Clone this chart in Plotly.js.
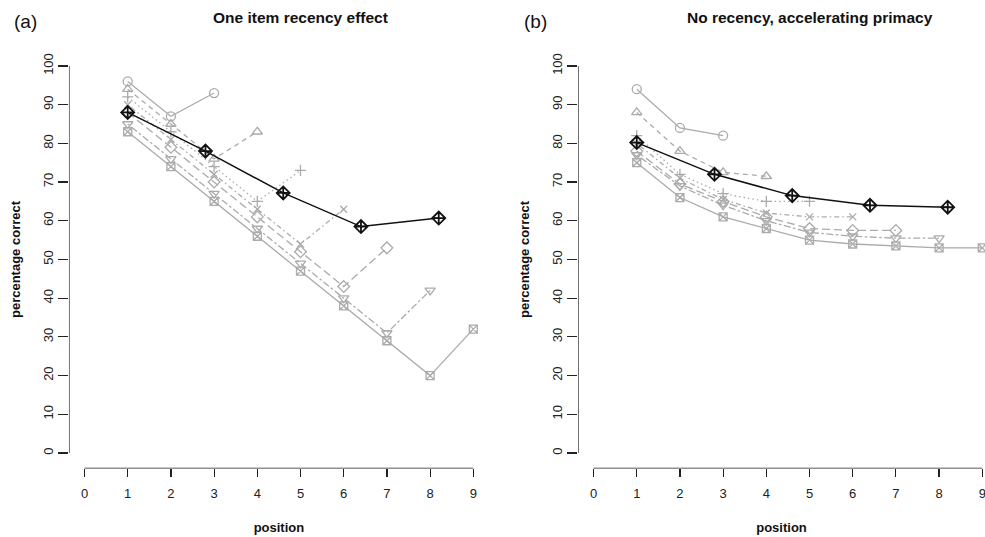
<!DOCTYPE html>
<html>
<head>
<meta charset="utf-8">
<script src="https://cdn.plot.ly/plotly-3.0.1.min.js"></script>
<style>html,body{margin:0;padding:0;background:#fff;}#chart{width:985px;height:537px;}</style>
</head>
<body>
<div id="chart"></div>
<script>
// Panel (a): One item recency effect — list length L, recall by serial position
const posA1 = [1, 2, 3];
const valA1 = [96, 87, 93];
const posA2 = [1, 2, 3, 4];
const valA2 = [94, 85, 76, 83];
const posA3 = [1, 2, 3, 4, 5];
const valA3 = [92, 83, 74, 65, 73];
const posA4 = [1, 2, 3, 4, 5, 6];
const valA4 = [90, 81, 72, 63, 54, 63];
const posA5 = [1, 2, 3, 4, 5, 6, 7];
const valA5 = [88, 79, 70, 61, 52, 43, 53];
const posA6 = [1, 2, 3, 4, 5, 6, 7, 8];
const valA6 = [85, 76, 67, 58, 49, 40, 31, 42];
const posA7 = [1, 2, 3, 4, 5, 6, 7, 8, 9];
const valA7 = [83, 74, 65, 56, 47, 38, 29, 20, 32];
const posMean = [1, 2.8, 4.6, 6.4, 8.2];
const valMeanA = [88, 78, 67.2, 58.5, 60.7];

// Panel (b): No recency, accelerating primacy
const valB1 = [94, 84, 82];
const valB2 = [88, 78, 72.5, 71.5];
const valB3 = [82, 72, 67, 65, 65];
const valB4 = [80, 71, 65.5, 62, 61, 61];
const valB5 = [78, 69.5, 65, 61, 58, 57.5, 57.5];
const valB6 = [77, 69, 64, 60, 57, 56, 55.5, 55.5];
const valB7 = [75, 66, 61, 58, 55, 54, 53.5, 53, 53];
const valMeanB = [80.2, 72, 66.5, 64, 63.5];

const xTicks = [0, 1, 2, 3, 4, 5, 6, 7, 8, 9];
const yTicks = [0, 10, 20, 30, 40, 50, 60, 70, 80, 90, 100];
const titleA = "One item recency effect";
const titleB = "No recency, accelerating primacy";

const gray = "#ababab";
const styles = [
  {symbol: "circle-open", size: 9, dash: "solid"},
  {symbol: "triangle-up-open", size: 9, dash: "5px,4px"},
  {symbol: "cross-thin-open", size: 8, dash: "1.5px,3px"},
  {symbol: "x-thin-open", size: 7, dash: "1.5px,3px,5px,3px"},
  {symbol: "diamond-open", size: 9, dash: "8px,4px"},
  {symbol: "triangle-down-open", size: 9, dash: "2.5px,2.5px,7px,2.5px"},
  {symbol: "square-x-open", size: 8, dash: "solid"}
];
const positionsA = [posA1, posA2, posA3, posA4, posA5, posA6, posA7];
const seriesA = [valA1, valA2, valA3, valA4, valA5, valA6, valA7];
const seriesB = [valB1, valB2, valB3, valB4, valB5, valB6, valB7];

const traces = [];
function addPanel(series, meanVals, xa, ya) {
  series.forEach((vals, i) => {
    const s = styles[i];
    traces.push({
      type: "scatter", mode: "lines+markers",
      x: positionsA[i], y: vals, xaxis: xa, yaxis: ya,
      line: {color: gray, width: 1.3, dash: s.dash},
      marker: {symbol: s.symbol, size: s.size, color: gray, line: {color: gray, width: 1.3}},
      hoverinfo: "x+y", showlegend: false
    });
  });
  traces.push({
    type: "scatter", mode: "lines+markers",
    x: posMean, y: meanVals, xaxis: xa, yaxis: ya,
    line: {color: "#111111", width: 1.5},
    marker: {symbol: "diamond-cross-open", size: 10, color: "#111111", line: {color: "#111111", width: 1.8}},
    hoverinfo: "x+y", showlegend: false
  });
}
addPanel(seriesA, valMeanA, "x", "y");
addPanel(seriesB, valMeanB, "x2", "y2");

const tickFont = {family: "Liberation Sans, Arial, sans-serif", size: 13, color: "#222"};
const boldFont = {family: "Liberation Sans, Arial, sans-serif", size: 13, color: "#111", weight: "bold"};

function xAxis(domain, range) {
  return {
    domain: domain, range: range, tickvals: xTicks, ticktext: xTicks.map(String),
    showgrid: false, zeroline: false, showline: false,
    ticks: "outside", ticklen: 8, tickwidth: 1.2, tickcolor: "#222",
    ticklabelstandoff: 5, ticklabeloverflow: "allow",
    tickfont: tickFont, fixedrange: true,
    title: {text: "position", font: boldFont, standoff: 22}
  };
}
function yAxis(anchor) {
  return {
    domain: [0.1276, 0.9060], range: [-4, 104], anchor: anchor,
    tickvals: yTicks, ticktext: yTicks.map(String), tickangle: -90,
    showgrid: false, zeroline: false, showline: false,
    ticks: "outside", ticklen: 10, tickwidth: 1.2, tickcolor: "#222",
    tickfont: tickFont, fixedrange: true,
    title: {text: "percentage correct", font: boldFont, standoff: 17}
  };
}

const layout = {
  width: 985, height: 537,
  margin: {l: 0, r: 0, t: 0, b: 0},
  paper_bgcolor: "#ffffff", plot_bgcolor: "#ffffff",
  showlegend: false,
  xaxis: xAxis([0.0700, 0.4963], [-0.36, 9.36]),
  yaxis: yAxis("x"),
  xaxis2: Object.assign(xAxis([0.5868, 1.0], [-0.36, 9.063]), {anchor: "y2"}),
  yaxis2: yAxis("x2"),
  shapes: [
    {type: "line", xref: "x", yref: "y", x0: 0, x1: 9, y0: -4, y1: -4, line: {color: "#222", width: 1.3}},
    {type: "line", xref: "x", yref: "y", x0: -0.36, x1: -0.36, y0: 0, y1: 100, line: {color: "#222", width: 1.3}},
    {type: "line", xref: "x2", yref: "y2", x0: 0, x1: 9, y0: -4, y1: -4, line: {color: "#222", width: 1.3}},
    {type: "line", xref: "x2", yref: "y2", x0: -0.36, x1: -0.36, y0: 0, y1: 100, line: {color: "#222", width: 1.3}}
  ],
  annotations: [
    {text: titleA, xref: "paper", yref: "paper", x: 300/985, y: 1 - 18/537, xanchor: "center", yanchor: "middle", showarrow: false,
     font: {family: "Liberation Sans, Arial, sans-serif", size: 15.5, color: "#111", weight: "bold"}},
    {text: titleB, xref: "paper", yref: "paper", x: 810/985, y: 1 - 18/537, xanchor: "center", yanchor: "middle", showarrow: false,
     font: {family: "Liberation Sans, Arial, sans-serif", size: 15.5, color: "#111", weight: "bold"}},
    {text: "(a)", xref: "paper", yref: "paper", x: 25/985, y: 1 - 22/537, xanchor: "center", yanchor: "middle", showarrow: false,
     font: {family: "Liberation Sans, Arial, sans-serif", size: 19, color: "#111"}},
    {text: "(b)", xref: "paper", yref: "paper", x: 535/985, y: 1 - 22/537, xanchor: "center", yanchor: "middle", showarrow: false,
     font: {family: "Liberation Sans, Arial, sans-serif", size: 19, color: "#111"}}
  ]
};

Plotly.newPlot("chart", traces, layout, {displayModeBar: false, staticPlot: true});
</script>
</body>
</html>
